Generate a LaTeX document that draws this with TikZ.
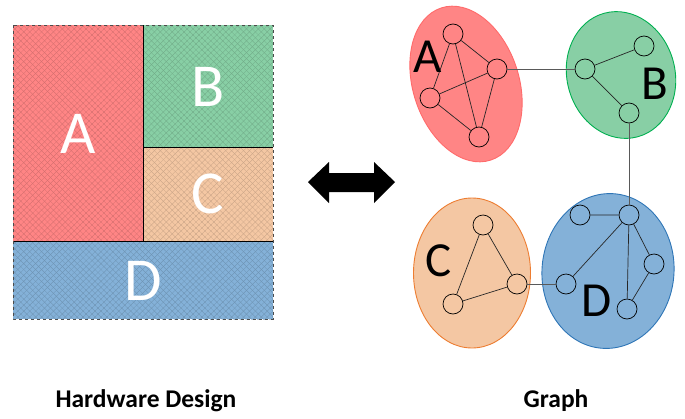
\documentclass[tikz,border=0pt]{standalone}
\usepackage{fontspec}
\setmainfont{Carlito}
\usetikzlibrary{shapes.geometric,patterns.meta}
\definecolor{cRed}{HTML}{FF8585}
\definecolor{cRedB}{HTML}{FF6B6B}
\definecolor{cGreen}{HTML}{88CFA5}
\definecolor{cGreenB}{HTML}{00B050}
\definecolor{cOrange}{HTML}{F4C7A3}
\definecolor{cOrangeB}{HTML}{ED7D31}
\definecolor{cBlue}{HTML}{84B1D8}
\definecolor{cBlueB}{HTML}{2E75B6}
\tikzset{
  hatched/.style={postaction={pattern={Lines[angle=45,distance=4.2pt,line width=0.3pt]},pattern color=#1},
                  postaction={pattern={Lines[angle=-45,distance=4.2pt,line width=0.3pt]},pattern color=#1}},
  vtx/.style={circle,draw=black,line width=0.7pt,minimum size=20pt,inner sep=0pt},
  edge/.style={line width=0.7pt,draw=black!85},
  link/.style={line width=0.7pt,draw=black!65},
  cluster/.style={ellipse,inner sep=0pt,line width=0.9pt},
  biglbl/.style={inner sep=0pt,anchor=base,text=white,font=\fontsize{61}{61}\selectfont},
  glbl/.style={inner sep=0pt,anchor=base,text=black,font=\fontsize{49}{49}\selectfont},
  title/.style={inner sep=0pt,anchor=base,font=\fontsize{25.5}{28}\selectfont\bfseries}
}
\begin{document}
\begin{tikzpicture}[x=1pt,y=-1pt]
\path[use as bounding box] (0,0) rectangle (685,418);
% Hardware design
\fill[cRed,hatched=cRed!82!black] (13,25) rectangle (143,241);
\fill[cGreen,hatched=cGreen!82!black] (143,25) rectangle (273,147);
\fill[cOrange,hatched=cOrange!82!black] (143,147) rectangle (273,241);
\fill[cBlue,hatched=cBlue!82!black] (13,241) rectangle (273,319);
\draw[line width=0.7pt,black] (143,25) -- (143,241) (143,147) -- (273,147) (13,241) -- (273,241);
\draw[line width=0.7pt,black!70,dashed] (13,25) rectangle (273,319);
\node[biglbl] (hA) at (78,153) {A};
\node[biglbl] (hB) at (208,106) {B};
\node[biglbl] (hC) at (208,213) {C};
\node[biglbl] (hD) at (143,300) {D};
% double arrow
\fill[black] (308,182) -- (329,162) -- (329,173) -- (374,173) -- (374,162) -- (395,182)
  -- (374,203) -- (374,192) -- (329,192) -- (329,203) -- cycle;
% Graph clusters
\node[cluster,fill=cRed,draw=cRedB,minimum width=106pt,minimum height=160pt,rotate=18] (eA) at (466,84) {};
\node[cluster,fill=cGreen,draw=cGreenB,minimum width=108pt,minimum height=128pt,rotate=15] (eB) at (621,75) {};
\node[cluster,fill=cOrange,draw=cOrangeB,minimum width=117pt,minimum height=150pt] (eC) at (472,273) {};
\node[cluster,fill=cBlue,draw=cBlueB,minimum width=132pt,minimum height=155pt,rotate=-5] (eD) at (608,271) {};
% vertices
\node[vtx] (a1) at (453,34) {};
\node[vtx] (a2) at (497,69) {};
\node[vtx] (a3) at (430,98) {};
\node[vtx] (a4) at (479,137) {};
\node[vtx] (b1) at (585,69) {};
\node[vtx] (b2) at (644,46) {};
\node[vtx] (b3) at (629,113) {};
\node[vtx] (c1) at (483,225) {};
\node[vtx] (c2) at (517,284) {};
\node[vtx] (c3) at (453,304) {};
\node[vtx] (d1) at (580,215) {};
\node[vtx] (d2) at (629,215) {};
\node[vtx] (d3) at (654,264) {};
\node[vtx] (d4) at (566,284) {};
\node[vtx] (d5) at (627,309) {};
% edges
\draw[edge] (a1) -- (a2) (a1) -- (a3) (a1) -- (a4) (a2) -- (a3) (a2) -- (a4) (a3) -- (a4);
\draw[edge] (b1) -- (b2) (b1) -- (b3);
\draw[edge] (c1) -- (c2) (c1) -- (c3) (c2) -- (c3);
\draw[edge] (d1) -- (d2) (d2) -- (d4) (d2) -- (d5) (d2) -- (d3) (d3) -- (d5);
\draw[link] (a2) -- (b1);
\draw[link] (b3) -- (d2);
\draw[link] (c2) -- (d4);
% cluster labels
\node[glbl] (gA) at (428,72) {A};
\node[glbl] (gB) at (655,99) {B};
\node[glbl] (gC) at (439,276) {C};
\node[glbl] (gD) at (597,316) {D};
% titles
\node[title] (t1) at (146,407) {Hardware Design};
\node[title] (t2) at (556,407) {Graph};
\end{tikzpicture}
\end{document}
